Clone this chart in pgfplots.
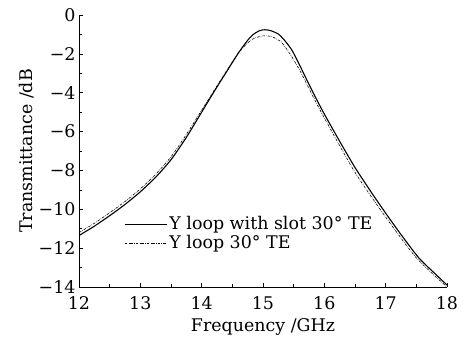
\documentclass[border=0pt]{standalone}
\usepackage{fontspec}
\setmainfont{DejaVu Serif}
\usepackage{pgfplots}
\pgfplotsset{compat=1.18}
\begin{document}
\begin{tikzpicture}
\path[use as bounding box] (-79bp,-51bp) rectangle (393bp,287bp);
\begin{axis}[
  at={(0,0)}, anchor=south west,
  scale only axis, width=368bp, height=272bp,
  xmin=12, xmax=18, ymin=-14, ymax=0,
  axis lines=left, axis line style={-, line width=0.8pt},
  tick align=inside, tick style={black, line width=0.7pt},
  major tick length=4bp, minor tick length=3bp,
  xtick={12,13,...,18}, ytick={-14,-12,...,0},
  yticklabels={−14,−12,−10,−8,−6,−4,−2,0},
  minor x tick num=1, minor y tick num=1,
  /pgf/number format/assume math mode=true,
  font=\fontsize{17.5}{20}\selectfont,
  tick label style={font=\fontsize{17.5}{20}\selectfont},
  label style={font=\fontsize{17.5}{20}\selectfont},
  xticklabel style={yshift=-6bp},
  xlabel={Frequency /GHz}, ylabel={Transmittance /dB},
  xlabel style={yshift=-2bp},
  ylabel style={yshift=-2bp},
  legend style={at={(rel axis cs:0.12,0.27)}, anchor=north west, draw=none, fill=none,
    font=\fontsize{17.5}{20}\selectfont, row sep=0bp, inner sep=1pt},
  legend cell align=left,
  legend image code/.code={\draw[#1] (0bp,0bp) -- (42bp,0bp);},
]
\addplot[black, line width=1.1pt, smooth, tension=0.4] coordinates {
(12.0,-11.35) (12.25,-10.87) (12.5,-10.33) (12.75,-9.75) (13.0,-9.1) (13.25,-8.35)
(13.5,-7.45) (13.75,-6.3) (14.0,-5.0) (14.25,-3.7) (14.4,-2.95) (14.6,-1.95) (14.75,-1.3)
(14.85,-0.98) (14.95,-0.8) (15.03,-0.76) (15.12,-0.8) (15.25,-0.98) (15.35,-1.3)
(15.47,-1.8) (15.6,-2.6) (15.7,-3.25) (15.85,-4.2) (16.0,-5.1) (16.25,-6.5)
(16.5,-7.85) (16.75,-9.05) (17.0,-10.2) (17.25,-11.3) (17.54,-12.5) (17.8,-13.3) (18.0,-13.9)
};
\addlegendentry{Y loop with slot 30° TE}
\addplot[black, line width=0.6pt, smooth, tension=0.4, dash pattern=on 2.5pt off 1.2pt on 0.6pt off 1.2pt] coordinates {
(12.0,-11.2) (12.25,-10.72) (12.5,-10.18) (12.75,-9.6) (13.0,-8.95) (13.25,-8.2)
(13.5,-7.3) (13.75,-6.15) (14.0,-4.9) (14.3,-3.4)
(14.6,-1.95) (14.8,-1.3) (14.95,-1.1) (15.03,-1.07) (15.15,-1.12) (15.3,-1.4)
(15.45,-2.05) (15.6,-2.85) (15.8,-4.1) (16.0,-5.3) (16.5,-8.1) (17.0,-10.4)
(17.5,-12.5) (18.0,-14.0)
};
\addlegendentry{Y loop 30° TE}
\end{axis}
\end{tikzpicture}
\end{document}
